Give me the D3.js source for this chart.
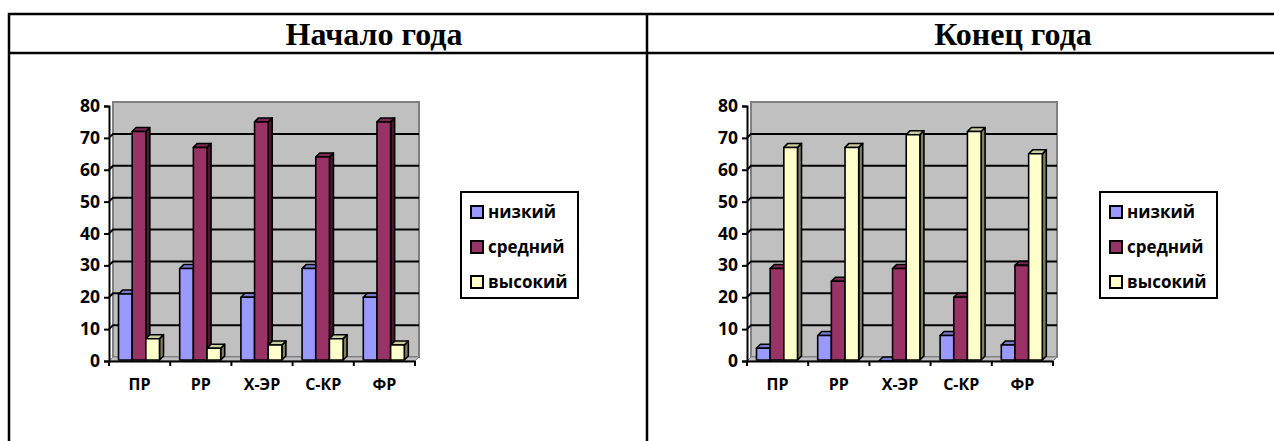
<!DOCTYPE html>
<html>
<head>
<meta charset="utf-8">
<script src="https://cdn.jsdelivr.net/npm/d3@7"></script>
<style>
  body { margin: 0; background: #fff; }
  svg { display: block; }
</style>
</head>
<body>
<svg id="mainsvg" width="1274" height="441"></svg>
<script>
const categories = ['ПР', 'РР', 'Х-ЭР', 'С-КР', 'ФР'];
const seriesNames = ['низкий', 'средний', 'высокий'];
const startLow = [21, 29, 20, 29, 20];
const startMid = [72, 67, 75, 64, 75];
const startHigh = [7, 4, 5, 7, 5];
const endLow = [4, 8, 0, 8, 5];
const endMid = [29, 25, 29, 20, 30];
const endHigh = [67, 67, 71, 72, 65];
const yTicks = [0, 10, 20, 30, 40, 50, 60, 70, 80];
const titles = ['Начало года', 'Конец года'];

const front = ['#9999ff', '#993366', '#ffffcc'];
const topFace = ['#7a7acc', '#7a2952', '#cccca3'];
const sideFace = ['#4c4c80', '#4c1933', '#808066'];
const dx = 4, dy = -4;
const font = '"Open Sans", "DejaVu Sans", sans-serif';

const svg = d3.select('#mainsvg');

// table frame
const frame = svg.append('g').attr('stroke', '#000').attr('stroke-width', 2.5);
frame.append('line').attr('x1', 8).attr('x2', 1274).attr('y1', 14).attr('y2', 14);
frame.append('line').attr('x1', 8).attr('x2', 1274).attr('y1', 53).attr('y2', 53);
frame.append('line').attr('x1', 9).attr('x2', 9).attr('y1', 13).attr('y2', 441);
frame.append('line').attr('x1', 647).attr('x2', 647).attr('y1', 13).attr('y2', 441);

const drawChart = (opts) => {
  const series = [opts.low, opts.mid, opts.high];
  const g = svg.append('g');

  g.append('text').text(opts.title)
    .attr('x', opts.titleX).attr('y', 45)
    .attr('text-anchor', 'middle')
    .attr('font-family', '"Liberation Serif", "Times New Roman", serif')
    .attr('font-weight', 'bold')
    .attr('font-size', 32);

  const yScale = d3.scaleLinear().domain([0, 80]).range([361, 106]);
  const xScale = d3.scaleBand().domain(categories).range([opts.x0, opts.x1]);
  const sub = d3.scaleBand().domain(seriesNames).range([9.5, 50.5]);
  const y0 = yScale(0);

  // back wall
  g.append('rect')
    .attr('x', opts.x0 + dx).attr('y', yScale(80) + dy)
    .attr('width', opts.x1 - opts.x0).attr('height', y0 - yScale(80))
    .attr('fill', '#c0c0c0').attr('stroke', '#808080').attr('stroke-width', 2);
  // floor
  g.append('path')
    .attr('d', `M${opts.x0},${y0}L${opts.x1},${y0}L${opts.x1 + dx},${y0 + dy}L${opts.x0 + dx},${y0 + dy}Z`)
    .attr('fill', '#c0c0c0').attr('stroke', '#808080').attr('stroke-width', 1);

  // gridlines
  g.selectAll('.grid').data(yTicks.filter(v => v > 0 && v < 80)).join('path')
    .attr('class', 'grid')
    .attr('d', v => `M${opts.x0},${yScale(v)}L${opts.x0 + dx},${yScale(v) + dy}L${opts.x1 + dx},${yScale(v) + dy}`)
    .attr('fill', 'none').attr('stroke', '#000').attr('stroke-width', 2);

  // bars
  const bars = [];
  categories.forEach((c, i) => {
    seriesNames.forEach((s, j) => {
      bars.push({ c, s, j, v: series[j][i] });
    });
  });
  const bar = g.selectAll('.bar').data(bars).join('g').attr('class', 'bar')
    .attr('stroke', '#000').attr('stroke-width', 1.6).attr('stroke-linejoin', 'round');
  bar.each(function (d) {
    const b = d3.select(this);
    const bx = xScale(d.c) + sub(d.s);
    const w = sub.bandwidth();
    const t = yScale(d.v);
    b.append('path')
      .attr('d', `M${bx + w},${t}L${bx + w + dx},${t + dy}L${bx + w + dx},${y0 + dy - 1}L${bx + w},${y0 - 1}Z`)
      .attr('fill', sideFace[d.j]);
    b.append('path')
      .attr('d', `M${bx},${t}L${bx + dx},${t + dy}L${bx + w + dx},${t + dy}L${bx + w},${t}Z`)
      .attr('fill', topFace[d.j]);
    b.append('rect')
      .attr('x', bx).attr('y', t).attr('width', w).attr('height', Math.max(0, y0 - 1 - t))
      .attr('fill', front[d.j]);
  });

  // y axis
  const yAxis = d3.axisLeft(yScale).tickValues(yTicks).tickSize(5).tickPadding(4);
  const ya = g.append('g').attr('transform', `translate(${opts.x0},0)`).call(yAxis);
  ya.select('.domain').attr('stroke-width', 2);
  ya.selectAll('line').attr('stroke-width', 2);
  ya.selectAll('text')
    .attr('font-family', font).attr('font-weight', 'bold').attr('font-size', 17.5).attr('fill', '#000');

  // x axis
  g.append('line')
    .attr('x1', opts.x0).attr('x2', opts.x1).attr('y1', y0 + 0.5).attr('y2', y0 + 0.5)
    .attr('stroke', '#000').attr('stroke-width', 2);
  const edges = categories.map(c => xScale(c)).concat([opts.x1]);
  g.selectAll('.xtick').data(edges).join('line').attr('class', 'xtick')
    .attr('x1', d => d).attr('x2', d => d).attr('y1', y0).attr('y2', y0 + 5)
    .attr('stroke', '#000').attr('stroke-width', 2);
  g.selectAll('.xlab').data(categories).join('text').attr('class', 'xlab')
    .attr('x', d => xScale(d) + xScale.bandwidth() / 2).attr('y', 390)
    .attr('text-anchor', 'middle')
    .attr('font-family', font).attr('font-weight', 'bold').attr('font-size', 16)
    .text(d => d);

  // legend
  const lg = g.append('g');
  lg.append('rect')
    .attr('x', opts.legendX).attr('y', 192).attr('width', 117).attr('height', 106)
    .attr('fill', '#fff').attr('stroke', '#000').attr('stroke-width', 2);
  const rowY = [212, 247, 282];
  const item = lg.selectAll('.item').data(seriesNames).join('g').attr('class', 'item')
    .attr('transform', (d, i) => `translate(${opts.legendX + 10},${rowY[i]})`);
  item.append('rect')
    .attr('x', 0).attr('y', -6).attr('width', 12).attr('height', 12)
    .attr('fill', (d, i) => front[i]).attr('stroke', '#000').attr('stroke-width', 2);
  item.append('text')
    .attr('x', 17).attr('y', 0).attr('dy', '0.35em')
    .attr('font-family', font).attr('font-weight', 'bold').attr('font-size', 17)
    .text(d => d);
};

drawChart({ title: titles[0], titleX: 374, x0: 109, x1: 415, legendX: 461, low: startLow, mid: startMid, high: startHigh });
drawChart({ title: titles[1], titleX: 1013, x0: 747, x1: 1053, legendX: 1100, low: endLow, mid: endMid, high: endHigh });
</script>
</body>
</html>
